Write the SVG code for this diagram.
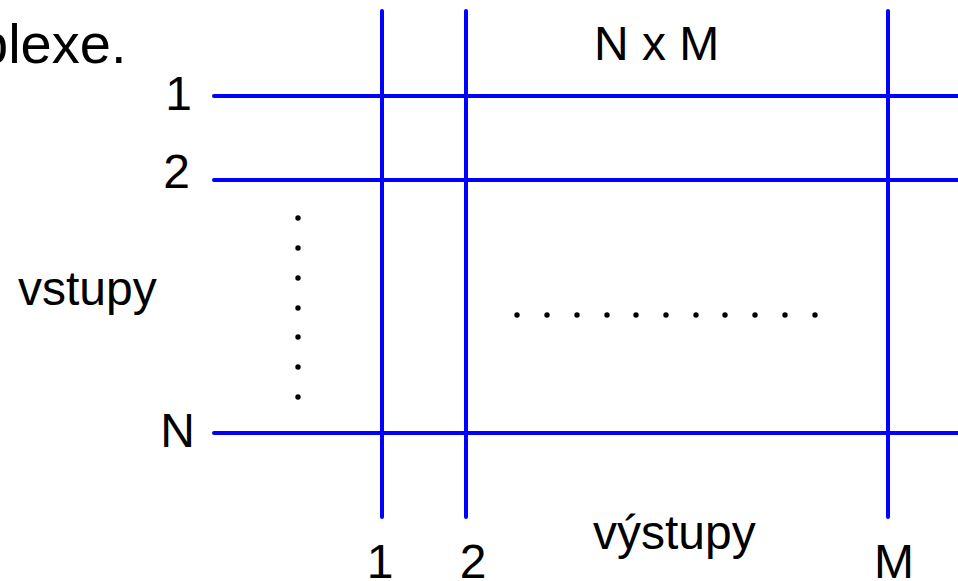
<svg xmlns="http://www.w3.org/2000/svg" width="958" height="581" viewBox="0 0 958 581">
<style>
.t{font-family:"Liberation Sans",Arial,sans-serif;font-size:48px;fill:#000}
.big{font-size:56px}
.ln{stroke:#0000ff;stroke-width:4;stroke-linecap:round;fill:none}
.dot{fill:#000}
</style>
<rect width="958" height="581" fill="#fff"/>
<text class="t big" x="-23" y="63">plexe.</text>
<g id="connectors">
<line class="ln" x1="214" y1="96" x2="960" y2="96"/>
<line class="ln" x1="214" y1="180" x2="960" y2="180"/>
<line class="ln" x1="214" y1="433" x2="960" y2="433"/>
<line class="ln" x1="382" y1="11" x2="382" y2="517"/>
<line class="ln" x1="466" y1="11" x2="466" y2="517"/>
<line class="ln" x1="888" y1="11" x2="888" y2="517"/>
</g>
<g id="inputs">
<text class="t" x="192" y="110" text-anchor="end">1</text>
<text class="t" x="190" y="188" text-anchor="end">2</text>
<text class="t" x="195" y="447" text-anchor="end">N</text>
<text class="t" x="18" y="305">vstupy</text>
</g>
<g id="outputs">
<text class="t" x="380" y="578" text-anchor="middle">1</text>
<text class="t" x="473" y="578" text-anchor="middle">2</text>
<text class="t" x="894" y="578" text-anchor="middle">M</text>
<text class="t" x="593" y="549">výstupy</text>
</g>
<g id="title">
<text class="t" x="594" y="60">N x M</text>
</g>
<g id="dots-vertical">
<circle class="dot" cx="298" cy="218" r="2.7"/>
<circle class="dot" cx="298" cy="248" r="2.7"/>
<circle class="dot" cx="298" cy="278" r="2.7"/>
<circle class="dot" cx="298" cy="308" r="2.7"/>
<circle class="dot" cx="298" cy="337" r="2.7"/>
<circle class="dot" cx="298" cy="367" r="2.7"/>
<circle class="dot" cx="298" cy="397" r="2.7"/>
</g>
<g id="dots-horizontal">
<circle class="dot" cx="517" cy="315" r="2.7"/>
<circle class="dot" cx="547" cy="315" r="2.7"/>
<circle class="dot" cx="577" cy="315" r="2.7"/>
<circle class="dot" cx="607" cy="315" r="2.7"/>
<circle class="dot" cx="636" cy="315" r="2.7"/>
<circle class="dot" cx="666" cy="315" r="2.7"/>
<circle class="dot" cx="696" cy="315" r="2.7"/>
<circle class="dot" cx="725" cy="315" r="2.7"/>
<circle class="dot" cx="755" cy="315" r="2.7"/>
<circle class="dot" cx="785" cy="315" r="2.7"/>
<circle class="dot" cx="815" cy="315" r="2.7"/>
</g>
</svg>
